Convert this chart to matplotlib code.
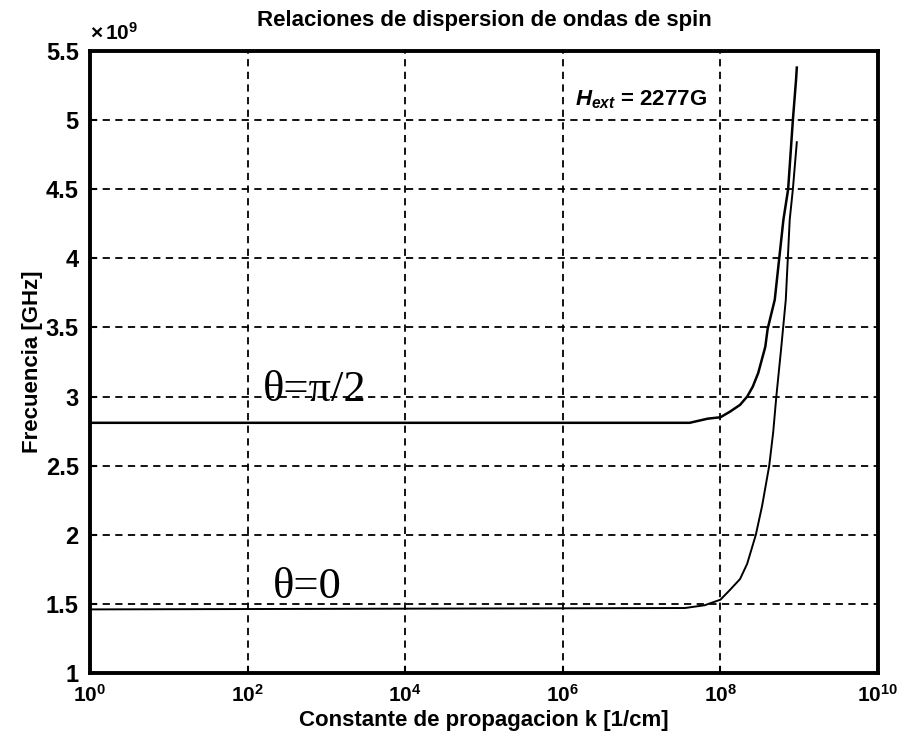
import matplotlib
matplotlib.use("Agg")
import matplotlib.pyplot as plt
import numpy as np

# ---- data (frequency in units of 1e9 Hz, k as log10) ----
logk_perp = [0.0, 7.1, 7.61, 7.84, 8.0, 8.12, 8.25, 8.34, 8.41, 8.48, 8.57, 8.60,
             8.69, 8.80, 8.86, 8.92, 8.96, 8.97]
freq_perp = [2.81, 2.81, 2.81, 2.84, 2.85, 2.89, 2.94, 3.00, 3.07, 3.17, 3.36, 3.49,
             3.70, 4.28, 4.50, 5.00, 5.29, 5.38]

logk_par = [0.0, 7.55, 7.8, 8.0, 8.12, 8.25, 8.34, 8.45, 8.53, 8.62, 8.67, 8.71,
            8.77, 8.83, 8.88, 8.92, 8.97]
freq_par = [1.46, 1.47, 1.49, 1.53, 1.60, 1.68, 1.79, 2.00, 2.21, 2.50, 2.74, 3.00,
            3.34, 3.70, 4.28, 4.50, 4.84]

xtick_exps = [0, 2, 4, 6, 8, 10]
yticks = [1, 1.5, 2, 2.5, 3, 3.5, 4, 4.5, 5, 5.5]
ytick_labels = ["1", "1.5", "2", "2.5", "3", "3.5", "4", "4.5", "5", "5.5"]

title = "Relaciones de dispersion de ondas de spin"
xlabel = "Constante de propagacion k [1/cm]"
ylabel = "Frecuencia [GHz]"
label_perp = "θ=π/2"
label_par = "θ=0"
field_text = r'$H_{ext}$ = 2277G'

plt.rcParams['font.family'] = ['Liberation Sans', 'DejaVu Sans']
plt.rcParams['mathtext.fontset'] = 'custom'
plt.rcParams['mathtext.rm'] = 'Liberation Sans:bold'
plt.rcParams['mathtext.bf'] = 'Liberation Sans:bold'
plt.rcParams['mathtext.it'] = 'Liberation Sans:bold:italic'

fig = plt.figure(figsize=(8.98, 7.48), dpi=100)
ax = fig.add_axes([0.1002, 0.1003, 0.8775, 0.8315])

k_perp = [10.0 ** v for v in logk_perp]
k_par = [10.0 ** v for v in logk_par]
ax.plot(k_perp, freq_perp, color='black', lw=1.8)
ax.plot(k_par, freq_par, color='black', lw=1.4)

ax.set_xscale('log')
ax.set_xlim(1, 1e10)
ax.set_ylim(1, 5.5)
ax.set_xticks([10.0 ** e for e in xtick_exps])
ax.set_xticklabels([r'$\mathbf{10^{%d}}$' % e for e in xtick_exps])
ax.xaxis.set_minor_locator(matplotlib.ticker.NullLocator())
ax.set_yticks(yticks)
ax.set_yticklabels(ytick_labels)

ax.grid(True, which='major', color='black', linestyle=(0, (4, 3)), lw=1.3)
ax.tick_params(direction='in', length=5, width=1.5)
ax.tick_params(axis='y', pad=8, labelsize=17)
ax.tick_params(axis='x', pad=8, labelsize=15)
for lab in ax.get_yticklabels() + ax.get_xticklabels():
    lab.set_fontweight('bold')
for sp in ax.spines.values():
    sp.set_linewidth(2.8)

ax.set_title(title, fontsize=16, fontweight='bold', pad=18)
ax.set_xlabel(xlabel, fontsize=16, fontweight='bold', labelpad=3)
ax.set_ylabel(ylabel, fontsize=16, fontweight='bold', labelpad=2)

ax.text(0.0, 1.012, r'$\mathbf{\times\,10^{9}}$', transform=ax.transAxes,
        fontsize=15, ha='left', va='bottom')

ax.text(10 ** 2.2, 2.965, label_perp, fontsize=32, ha='left', va='baseline',
        family='Liberation Serif')
ax.text(10 ** 2.32, 1.54, label_par, fontsize=32, ha='left', va='baseline',
        family='Liberation Serif')
ax.text(10 ** 6.16, 5.15, field_text, fontsize=16, fontweight='bold',
        ha='left', va='center')

fig.savefig('out.png', dpi=100)
